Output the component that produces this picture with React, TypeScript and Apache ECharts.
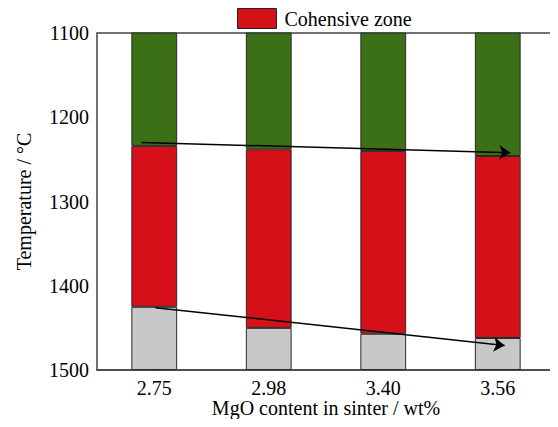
import React, { useEffect, useRef } from "react";
import * as echarts from "echarts";

const categories = ["2.75", "2.98", "3.40", "3.56"];
// Temperature (°C) where the cohesive zone starts (softening) and ends (melting)
const softeningStart = [1234, 1238, 1240, 1246];
const meltingEnd = [1425, 1450, 1457, 1462];
const axisMax = 1500;
const yTicks = [1100, 1200, 1300, 1400, 1500];
// arrows in (category index, temperature)
const arrowTop = [[-0.11, 1230], [3.11, 1242]];
const arrowBottom = [[0.01, 1426], [3.06, 1471]];

const FONT = "'Liberation Serif', 'Times New Roman', serif";

export default function App() {
  const ref = useRef<HTMLDivElement>(null);
  useEffect(() => {
    if (!ref.current) return;
    const chart = echarts.init(ref.current, undefined, { renderer: "svg" });
    const green = softeningStart;
    const red = meltingEnd.map((v, i) => v - softeningStart[i]);
    const gray = meltingEnd.map((v) => axisMax - v);
    const border = { borderColor: "#2a2a2a", borderWidth: 1 };
    const labelStyle = { fontFamily: FONT, fontSize: 20, color: "#000", fontWeight: "normal" as const };
    chart.setOption({
      animation: false,
      textStyle: { fontFamily: FONT, color: "#000" },
      legend: {
        data: ["Cohensive zone"],
        left: 237,
        top: 8,
        icon: "rect",
        itemWidth: 39,
        itemHeight: 20,
        padding: 0,
        itemStyle: { borderColor: "#222", borderWidth: 1 },
        textStyle: { ...labelStyle, padding: [0, 0, 0, 3] },
      },
      grid: {
        left: 97,
        right: 3,
        top: 33,
        bottom: 57,
        outerBoundsMode: "none",
        containLabel: false,
        show: true,
        borderColor: "#444",
        borderWidth: 1.5,
        backgroundColor: "#fff",
      },
      xAxis: [
        {
          type: "category",
          data: categories,
          axisLine: { lineStyle: { color: "#444", width: 1.5 } },
          axisTick: { show: false },
          axisLabel: { ...labelStyle, margin: 8 },
          name: "MgO content in sinter / wt%",
          nameLocation: "middle",
          nameGap: 28,
          nameMoveOverlap: false,
          nameTextStyle: labelStyle,
        },
        {
          type: "value",
          min: -0.5,
          max: 3.5,
          show: false,
        },
      ],
      yAxis: {
        type: "value",
        inverse: true,
        min: 1100,
        max: 1500,
        interval: 100,
        splitLine: { show: false },
        axisLine: { show: true, lineStyle: { color: "#444", width: 1.5 } },
        axisTick: { show: true, inside: true, length: 7, lineStyle: { color: "#444" } },
        axisLabel: {
          ...labelStyle,
          margin: 8,
          formatter: (v: number) => (yTicks.includes(v) ? String(v) : ""),
        },
        name: "Temperature / °C",
        nameLocation: "middle",
        nameGap: 63,
        nameMoveOverlap: false,
        nameTextStyle: labelStyle,
      },
      series: [
        {
          name: "Lumpy zone",
          type: "bar",
          stack: "t",
          barWidth: "40%",
          data: green,
          itemStyle: { color: "#3b7016", ...border },
        },
        {
          name: "Cohensive zone",
          type: "bar",
          stack: "t",
          barWidth: "40%",
          data: red,
          itemStyle: { color: "#d51018", ...border },
        },
        {
          name: "Dripping zone",
          type: "bar",
          stack: "t",
          barWidth: "40%",
          data: gray,
          itemStyle: { color: "#c8c8c8", ...border },
        },
        {
          type: "lines",
          coordinateSystem: "cartesian2d",
          xAxisIndex: 1,
          yAxisIndex: 0,
          symbol: ["none", "arrow"],
          symbolSize: 11,
          lineStyle: { color: "#000", width: 1.5, opacity: 1 },
          z: 5,
          data: [{ coords: arrowTop }, { coords: arrowBottom }],
        },
      ],
    });
    return () => chart.dispose();
  }, []);
  return <div ref={ref} style={{ width: 558, height: 427, margin: -8 }} />;
}
